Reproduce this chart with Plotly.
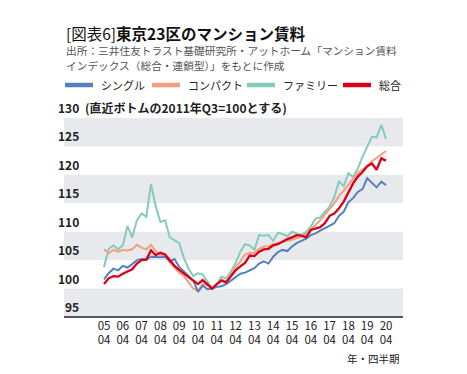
import plotly.graph_objects as go

# ---- data ----
years = list(range(2005, 2021))
tick_top = ["05", "06", "07", "08", "09", "10", "11", "12", "13", "14", "15", "16", "17", "18", "19", "20"]
tick_bottom = ["04"] * 16
periods = [(2005, 4)] + [(y, q) for y in range(2006, 2021) for q in (1, 2, 3, 4)]
x_vals = [y + (q - 1) / 4 for y, q in periods]

single = [101.6, 102.7, 103.5, 103.2, 104.0, 103.7, 104.3, 105.0, 105.2, 105.1,
          105.6, 105.5, 105.5, 105.6, 104.8, 105.2, 103.8, 103.0, 102.2, 101.4,
          99.4, 100.5, 99.9, 100.0, 100.3, 100.4, 100.8, 101.4, 102.1, 102.6,
          102.8, 103.2, 103.6, 104.4, 104.8, 104.4, 105.6, 106.4, 106.8, 106.6,
          107.4, 108.0, 108.4, 108.8, 109.4, 109.7, 110.2, 110.6, 111.0, 111.5,
          112.8, 113.5, 115.2, 115.9, 117.0, 117.5, 119.4, 118.6, 117.8, 118.8,
          118.2]
compact = [106.9, 106.2, 106.8, 106.5, 106.8, 106.7, 106.9, 107.7, 107.2, 106.9,
           107.7, 106.6, 106.0, 105.8, 104.6, 103.6, 102.8, 102.2, 101.2, 100.0,
           99.7, 100.8, 100.6, 100.0, 100.7, 101.6, 101.2, 102.6, 103.8, 104.8,
           106.0, 106.3, 106.2, 107.0, 107.4, 107.4, 107.8, 108.0, 108.2, 108.3,
           108.6, 108.9, 109.1, 109.6, 110.4, 111.2, 112.0, 113.0, 114.0, 115.0,
           116.3, 117.2, 118.3, 119.4, 120.3, 121.0, 121.6, 122.4, 123.0, 123.6,
           124.2]
family = [103.8, 107.0, 107.6, 106.9, 107.6, 111.0, 109.0, 112.0, 113.2, 112.6,
          118.4, 114.5, 111.7, 112.0, 109.0, 108.5, 108.0, 105.4, 103.5, 102.2,
          102.7, 102.5, 101.2, 100.0, 100.8, 102.1, 101.8, 103.0, 104.5, 106.5,
          107.8, 107.6, 106.8, 109.4, 109.3, 109.4, 108.4, 109.8, 109.6, 109.2,
          110.0, 109.7, 109.4, 110.0, 110.9, 112.3, 112.5, 113.5, 114.4, 116.1,
          118.9, 118.0, 120.3, 119.6, 121.1, 123.2, 125.0, 126.7, 126.6, 128.8,
          126.3]
total = [100.8, 101.8, 102.2, 102.1, 102.6, 103.0, 103.4, 104.4, 105.0, 105.1,
         106.7, 105.9, 106.3, 106.0, 105.0, 104.0, 103.3, 102.6, 102.0, 101.4,
         100.8, 101.5, 100.7, 100.0, 100.8, 101.4, 101.1, 102.2, 103.2, 103.9,
         104.5, 105.8, 105.7, 106.5, 106.9, 107.0, 107.6, 107.8, 108.3, 108.7,
         109.0, 109.4, 109.3, 109.0, 110.3, 110.6, 110.8, 111.5, 112.8, 113.2,
         114.1, 115.3, 116.9, 118.5, 119.7, 120.5, 121.5, 122.0, 120.9, 122.9,
         122.5]

series_names = ["シングル", "コンパクト", "ファミリー", "総合"]
y_ticks = [95, 100, 105, 110, 115, 120, 125, 130]

COL_SINGLE = "#5580c0"
COL_COMPACT = "#f0a07e"
COL_FAMILY = "#84cbbb"
COL_TOTAL = "#d9001b"
BAND = "#e7e9ec"
FONT = "Noto Sans CJK JP"

W, H = 467, 374
L, R, T, B = 64, 403, 118, 317


def px(x):
    return (x - L) / (R - L)


def py(y):
    return (B - y) / (B - T)


fig = go.Figure()
for name, vals, col, w in [
    (series_names[2], family, COL_FAMILY, 2.0),
    (series_names[1], compact, COL_COMPACT, 2.0),
    (series_names[0], single, COL_SINGLE, 2.0),
    (series_names[3], total, COL_TOTAL, 2.3),
]:
    fig.add_trace(go.Scatter(x=x_vals, y=vals, mode="lines", name=name,
                             line=dict(color=col, width=w), showlegend=False))

shapes = []
for lo in (95, 105, 115, 125):
    shapes.append(dict(type="rect", xref="paper", yref="y", x0=0, x1=1, y0=lo, y1=lo + 5,
                       fillcolor=BAND, line=dict(width=0), layer="below"))
shapes.append(dict(type="line", xref="paper", yref="paper", x0=0, x1=1, y0=0, y1=0,
                   line=dict(color="#222222", width=1.5)))

annotations = []
for v in y_ticks:
    annotations.append(dict(x=px(81), y=v, xref="paper", yref="y", text=f"<b>{v}</b>",
                            showarrow=False, xanchor="right", yanchor="bottom",
                            font=dict(family=FONT, size=12, color="#222222")))
annotations.append(dict(x=px(83), y=130, xref="paper", yref="y",
                        text="<b>(直近ボトムの2011年Q3=100とする)</b>",
                        showarrow=False, xanchor="left", yanchor="bottom",
                        font=dict(family=FONT, size=12, color="#222222")))
annotations.append(dict(x=px(402), y=py(358), xref="paper", yref="paper", text="年・四半期",
                        showarrow=False, xanchor="right", yanchor="middle",
                        font=dict(family=FONT, size=10.5, color="#222222")))

annotations.append(dict(x=px(64), y=py(33), xref="paper", yref="paper",
                        text="[図表6]<b>東京23区のマンション賃料</b>", showarrow=False,
                        xanchor="left", yanchor="middle",
                        font=dict(family=FONT, size=15.5, color="#111111")))
annotations.append(dict(x=px(64), y=py(50), xref="paper", yref="paper",
                        text="出所：三井住友トラスト基礎研究所・アットホーム「マンション賃料",
                        showarrow=False, xanchor="left", yanchor="middle",
                        font=dict(family=FONT, size=10.7, color="#555555")))
annotations.append(dict(x=px(64), y=py(65), xref="paper", yref="paper",
                        text="インデックス（総合・連鎖型）」をもとに作成",
                        showarrow=False, xanchor="left", yanchor="middle",
                        font=dict(family=FONT, size=10.7, color="#555555")))

leg_items = [(series_names[0], COL_SINGLE, 65), (series_names[1], COL_COMPACT, 152),
             (series_names[2], COL_FAMILY, 247), (series_names[3], COL_TOTAL, 343)]
for name, col, x0 in leg_items:
    shapes.append(dict(type="line", xref="paper", yref="paper", x0=px(x0), x1=px(x0 + 28),
                       y0=py(85), y1=py(85), line=dict(color=col, width=4.5)))
    annotations.append(dict(x=px(x0 + 34), y=py(85), xref="paper", yref="paper", text=name,
                            showarrow=False, xanchor="left", yanchor="middle",
                            font=dict(family=FONT, size=11, color="#222222")))

fig.update_layout(
    width=W, height=H,
    margin=dict(l=L, r=W - R, t=T, b=H - B),
    paper_bgcolor="white", plot_bgcolor="white",
    shapes=shapes, annotations=annotations,
    xaxis=dict(range=[2005.75 - (104 - L) / 18.8, 2005.75 + (R - 104) / 18.8],
               showgrid=False, zeroline=False, showline=False,
               tickmode="array", tickvals=[y + 0.75 for y in years],
               ticktext=[f"{a}<br>{b}" for a, b in zip(tick_top, tick_bottom)],
               ticks="", ticklen=0, tickfont=dict(family=FONT, size=11.5, color="#222222")),
    yaxis=dict(range=[95, 130], showgrid=False, zeroline=False, showticklabels=False,
               ticks="", showline=False),
    showlegend=False,
    font=dict(family=FONT),
)

fig.write_html("out.html", config={"displayModeBar": False},
               post_script="document.body.style.margin='0';document.body.style.padding='0';")
